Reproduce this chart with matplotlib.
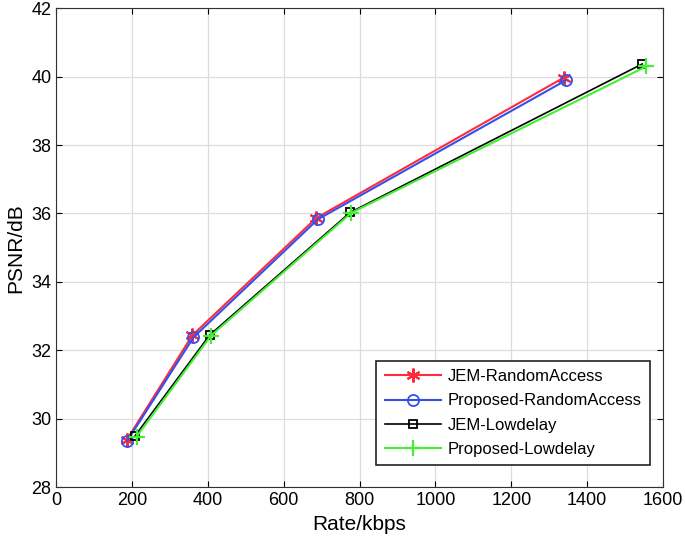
import numpy as np
from matplotlib import pyplot as plt
import matplotlib as mpl
mpl.rc('font', family='Liberation Sans', size=13)

# data
rate_jem_ra = [186, 359, 686, 1338]
psnr_jem_ra = [29.38, 32.44, 35.87, 39.97]
rate_prop_ra = [187, 362, 690, 1345]
psnr_prop_ra = [29.35, 32.38, 35.83, 39.90]
rate_jem_ld = [208, 405, 775, 1545]
psnr_jem_ld = [29.50, 32.45, 36.03, 40.37]
rate_prop_ld = [212, 408, 778, 1556]
psnr_prop_ld = [29.48, 32.43, 36.02, 40.30]

fig = plt.figure(figsize=(6.85, 5.48), dpi=100)
ax = fig.add_axes([0.082, 0.111, 0.886, 0.874])

ax.plot(rate_jem_ra, psnr_jem_ra, '-', marker=(6, 2, 0), color='#ff2a3c',
        lw=1.5, ms=10, mew=1.5, label='JEM-RandomAccess')
ax.plot(rate_prop_ra, psnr_prop_ra, '-o', color='#3350ee', lw=1.5, ms=8,
        mfc='none', mew=1.3, label='Proposed-RandomAccess')
ax.plot(rate_jem_ld, psnr_jem_ld, '-s', color='black', lw=1.2, ms=6,
        mfc='none', mew=1.3, label='JEM-Lowdelay')
ax.plot(rate_prop_ld, psnr_prop_ld, '-+', color='#44ee33', lw=1.5, ms=12,
        mew=1.6, label='Proposed-Lowdelay')

ax.set_xlim(0, 1600)
ax.set_ylim(28, 42)
ax.set_xticks(np.arange(0, 1601, 200))
ax.set_yticks(np.arange(28, 43, 2))
ax.grid(True, color='#dddddd', lw=0.9)
ax.set_axisbelow(True)
ax.tick_params(direction='in', length=4, top=True, right=True, labelsize=13)
for s in ax.spines.values():
    s.set_color('#333333')
ax.set_xlabel('Rate/kbps', fontsize=15)
ax.set_ylabel('PSNR/dB', fontsize=15)

leg = ax.legend(loc='lower right', bbox_to_anchor=(0.979, 0.046),
                fancybox=False, framealpha=1, edgecolor='#222222',
                fontsize=12, borderaxespad=0, handlelength=3.4,
                labelspacing=0.55, borderpad=0.5, handletextpad=0.4)
leg.get_frame().set_linewidth(1.2)

fig.savefig('out.png', dpi=100)
